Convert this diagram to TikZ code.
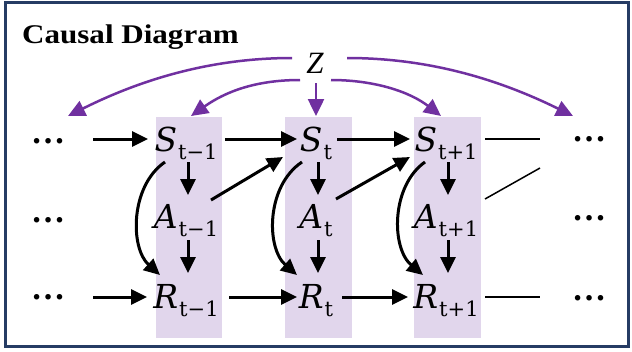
\documentclass[tikz,border=0pt]{standalone}
\usepackage[no-math]{fontspec}
\setmainfont{Liberation Serif}
\newfontfamily\titlefont[FakeStretch=1.15]{Liberation Serif}
\newfontfamily\varfont{DejaVu Serif}
\usetikzlibrary{arrows.meta}
\definecolor{zpurple}{RGB}{112,48,160}
\definecolor{bandc}{RGB}{225,214,236}
\definecolor{framec}{RGB}{38,60,100}
\newcommand{\var}[2]{{\varfont\itshape\fontsize{33bp}{33bp}\selectfont #1}\kern1bp\raisebox{-8bp}{\varfont\fontsize{21bp}{21bp}\selectfont #2}}
\begin{document}
\begin{tikzpicture}[x=1bp,y=-1bp,
  lbl/.style={inner sep=0pt, anchor=base},
  dts/.style={inner sep=0pt, font=\bfseries\fontsize{34bp}{34bp}\selectfont},
  arr/.style={line width=3bp, -{Triangle[length=16bp,width=15bp]}},
  zarr/.style={line width=2.5bp, draw=zpurple, -{Triangle[length=17bp,width=16bp]}, zpurple},
  thinline/.style={line width=1.5bp}]
\useasboundingbox (0,0) rectangle (632,351);
\fill[white] (0,0) rectangle (632,351);
\draw[framec, line width=3bp] (5,2) rectangle (628,346);
% bands
\fill[bandc] (156,117) rectangle (222,338);
\fill[bandc] (285,117) rectangle (352,338);
\fill[bandc] (414,117) rectangle (481,338);
% title and Z
\node[inner sep=0pt, anchor=base west, font=\titlefont\bfseries\fontsize{27bp}{27bp}\selectfont] (title) at (22,43) {Causal Diagram};
\node[inner sep=0pt, anchor=base, font=\itshape\fontsize{31bp}{31bp}\selectfont] (Z) at (315,73) {Z};
% labels
\node[lbl] (S1) at (186,151) {\var{S}{t−1}};
\node[lbl] (S2) at (316,151) {\var{S}{t}};
\node[lbl] (S3) at (446,151) {\var{S}{t+1}};
\node[lbl] (A1) at (186,228) {\var{A}{t−1}};
\node[lbl] (A2) at (316,228) {\var{A}{t}};
\node[lbl] (A3) at (446,228) {\var{A}{t+1}};
\node[lbl] (R1) at (186,308) {\var{R}{t−1}};
\node[lbl] (R2) at (316,308) {\var{R}{t}};
\node[lbl] (R3) at (446,308) {\var{R}{t+1}};
% dots
\node[dts] (dS1) at (48,141) {…};
\node[dts] (dA1) at (48,220) {…};
\node[dts] (dR1) at (48,297) {…};
\node[dts] (dS3) at (589,139) {…};
\node[dts] (dA3) at (589,218) {…};
\node[dts] (dR3) at (589,298) {…};
% S row
\draw[arr] ([shift={(45,-2)}]dS1.center) -- ([shift={(-38,-12)}]S1.base);
\draw[arr] ([shift={(39,-12)}]S1.base) -- ([shift={(-19,-12)}]S2.base);
\draw[arr] ([shift={(21,-12)}]S2.base) -- ([shift={(-36,-12)}]S3.base);
\draw[thinline] ([shift={(39,-12)}]S3.base) -- ([shift={(-49,0)}]dS3.center);
% R row
\draw[arr] ([shift={(45,0)}]dR1.center) -- ([shift={(-39,-11)}]R1.base);
\draw[arr] ([shift={(43,-11)}]R1.base) -- ([shift={(-19,-11)}]R2.base);
\draw[arr] ([shift={(26,-11)}]R2.base) -- ([shift={(-38,-11)}]R3.base);
\draw[thinline] ([shift={(39,-11)}]R3.base) -- ([shift={(-49,-1)}]dR3.center);
% verticals
\foreach \c in {1,2,3}{
  \draw[arr] ([shift={(2,11)}]S\c.base) -- ([shift={(2,-33)}]A\c.base);
  \draw[arr] ([shift={(2,12)}]A\c.base) -- ([shift={(2,-35)}]R\c.base);
}
% curved S -> R
\draw[arr] ([shift={(-21,11)}]S1.base) .. controls ([shift={(-56,35)}]S1.base) and ([shift={(-56,-60)}]R1.base) .. ([shift={(-26,-33)}]R1.base);
\draw[arr] ([shift={(-14,11)}]S2.base) .. controls ([shift={(-50,35)}]S2.base) and ([shift={(-50,-60)}]R2.base) .. ([shift={(-19,-33)}]R2.base);
\draw[arr] ([shift={(-21,11)}]S3.base) .. controls ([shift={(-55,35)}]S3.base) and ([shift={(-55,-60)}]R3.base) .. ([shift={(-23,-33)}]R3.base);
% diagonals A -> S
\draw[arr] ([shift={(25,-28)}]A1.base) -- ([shift={(-33,6)}]S2.base);
\draw[arr] ([shift={(20,-29)}]A2.base) -- ([shift={(-36,6)}]S3.base);
\draw[thinline] ([shift={(39,-29)}]A3.base) -- ([shift={(-49,-50)}]dA3.center);
% purple arrows from Z
\draw[zarr] ([shift={(-23,-15)}]Z.base) .. controls ([shift={(-95,-15)}]Z.base) and ([shift={(-165,2)}]Z.base) .. ([shift={(20,-25)}]dS1.center);
\draw[zarr] ([shift={(-15,7)}]Z.base) .. controls ([shift={(-60,7)}]Z.base) and ([shift={(-90,19)}]Z.base) .. ([shift={(5,-35)}]S1.base);
\draw[zarr] ([shift={(1,10)}]Z.base) -- ([shift={(0,-35)}]S2.base);
\draw[zarr] ([shift={(16,7)}]Z.base) .. controls ([shift={(60,7)}]Z.base) and ([shift={(95,19)}]Z.base) .. ([shift={(-5,-35)}]S3.base);
\draw[zarr] ([shift={(32,-15)}]Z.base) .. controls ([shift={(105,-15)}]Z.base) and ([shift={(175,2)}]Z.base) .. ([shift={(-16,-23)}]dS3.center);
\end{tikzpicture}
\end{document}
